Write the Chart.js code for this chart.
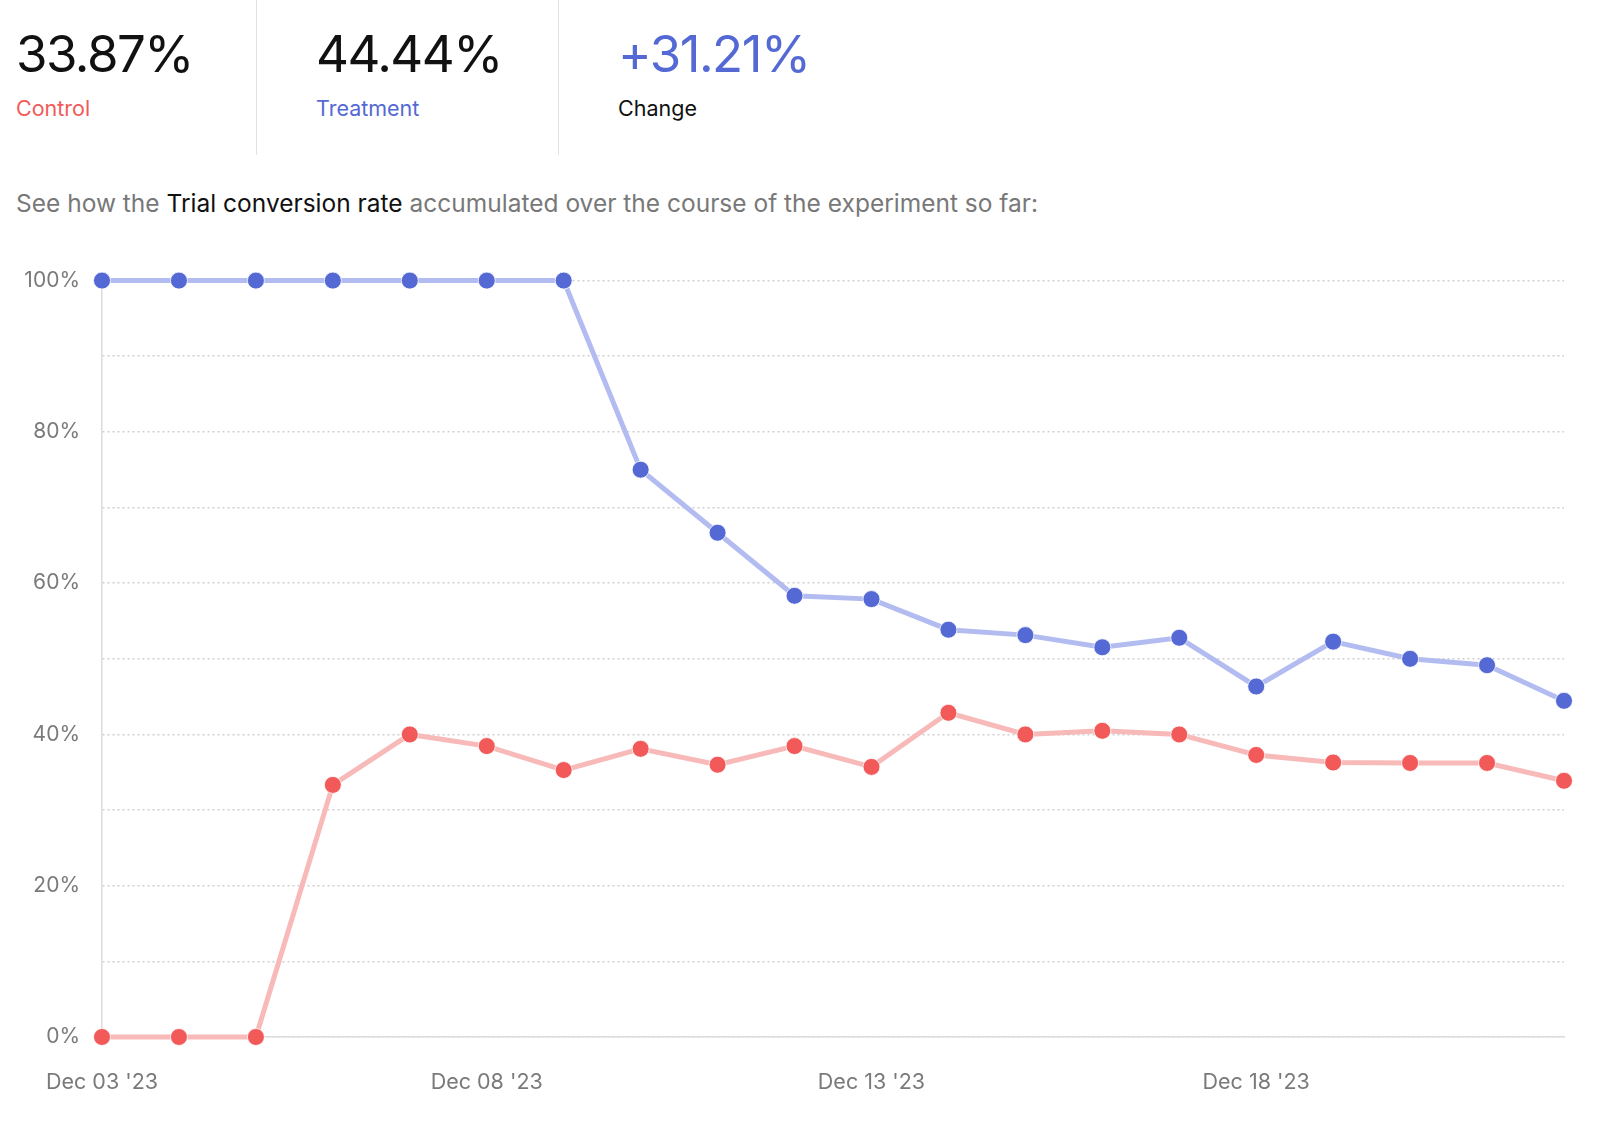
<!DOCTYPE html>
<html>
<head>
<meta charset="utf-8">
<script src="https://cdn.jsdelivr.net/npm/chart.js@4.4.0/dist/chart.umd.min.js"></script>
<style>
  body { margin: 0; background: #fff; font-family: Inter, "Noto Sans", sans-serif; }
  #page { position: relative; width: 1600px; height: 1129px; overflow: hidden; }
  .stat { position: absolute; top: 0; height: 155px; }
  .stat .num { position: absolute; top: 23px; left: 0; font-size: 51px; font-weight: 400; letter-spacing: -1.5px; white-space: nowrap; color: #111; }
  .stat .lbl { position: absolute; top: 95px; left: 0; font-size: 21.5px; white-space: nowrap; }
  .sep { position: absolute; top: 0; width: 1px; height: 155px; background: #e2e2e2; }
  #desc { position: absolute; top: 188px; left: 16px; font-size: 24.5px; color: #787878; white-space: nowrap; }
  #desc b { font-weight: 400; color: #111; }
  #wrap { position: absolute; left: 0; top: 246px; width: 1600px; height: 883px; }
</style>
</head>
<body>
<div id="page">
  <div class="stat" style="left:16px"><div class="num">33.87%</div><div class="lbl" style="color:#f25a5a">Control</div></div>
  <div class="sep" style="left:256px"></div>
  <div class="stat" style="left:316px"><div class="num">44.44%</div><div class="lbl" style="color:#5469d4">Treatment</div></div>
  <div class="sep" style="left:558px"></div>
  <div class="stat" style="left:618px"><div class="num" style="color:#5469d4">+31.21%</div><div class="lbl" style="color:#111">Change</div></div>
  <div id="desc">See how the <b>Trial conversion rate</b> accumulated over the course of the experiment so far:</div>
  <div id="wrap"><canvas id="chart"></canvas></div>
</div>
<script>
// =========================
// DATA
// =========================
const days = ["Dec 03 '23", "Dec 04 '23", "Dec 05 '23", "Dec 06 '23", "Dec 07 '23",
              "Dec 08 '23", "Dec 09 '23", "Dec 10 '23", "Dec 11 '23", "Dec 12 '23",
              "Dec 13 '23", "Dec 14 '23", "Dec 15 '23", "Dec 16 '23", "Dec 17 '23",
              "Dec 18 '23", "Dec 19 '23", "Dec 20 '23", "Dec 21 '23", "Dec 22 '23"];

const treatment = [100, 100, 100, 100, 100, 100, 100, 75, 66.67, 58.33,
                   57.89, 53.85, 53.13, 51.52, 52.78, 46.34, 52.27, 50, 49.15, 44.44];

const control = [0, 0, 0, 33.33, 40, 38.46, 35.29, 38.1, 36, 38.46,
                 35.71, 42.86, 40, 40.48, 40, 37.29, 36.29, 36.23, 36.23, 33.87];

const yTicks = [0, 20, 40, 60, 80, 100];

// =========================
// CHART
// =========================
function makeSeries(label, data, line, dot) {
    return {
        label: label,
        data: data,
        borderColor: line,
        borderWidth: 5,
        backgroundColor: dot,
        pointBackgroundColor: dot,
        pointBorderColor: 'rgba(255,255,255,0.8)',
        pointBorderWidth: 1,
        pointRadius: 8.5,
        tension: 0,
        clip: false
    };
}

new Chart(document.getElementById('chart'), {
    type: 'line',
    data: {
        labels: days,
        datasets: [
            makeSeries('Treatment', treatment, '#b3bcf0', '#5469d4'),
            makeSeries('Control', control, '#f8b9b9', '#f25a5a')
        ]
    },
    options: {
        responsive: true,
        maintainAspectRatio: false,
        animation: false,
        layout: { padding: { top: 27, right: 36, left: 0, bottom: 0 } },
        plugins: { legend: { display: false }, tooltip: { enabled: false } },
        scales: {
            x: {
                offset: false,
                grid: { display: false, drawTicks: false },
                border: { display: true, color: '#dcdcdc', width: 1.5 },
                afterFit: s => { s.height = 92; },
                ticks: {
                    autoSkip: false,
                    maxRotation: 0,
                    padding: 33,
                    color: '#7a7a7a',
                    font: { family: 'Inter', size: 21.5 },
                    callback: (v, i) => (i % 5 === 0 ? days[i] : '')
                }
            },
            y: {
                min: 0,
                max: 100,
                afterFit: s => { s.width = 102; },
                grid: { color: '#cfcfcf', lineWidth: 1.5, drawTicks: false },
                // dotted gridlines, solid axis line
                border: { display: true, color: '#dcdcdc', width: 1.5, dash: [2, 3] },
                ticks: {
                    stepSize: 10,
                    padding: 22,
                    color: '#7a7a7a',
                    font: { family: 'Inter', size: 21 },
                    callback: v => (yTicks.includes(v) ? v + '%' : '')
                }
            }
        }
    }
});
</script>
</body>
</html>
